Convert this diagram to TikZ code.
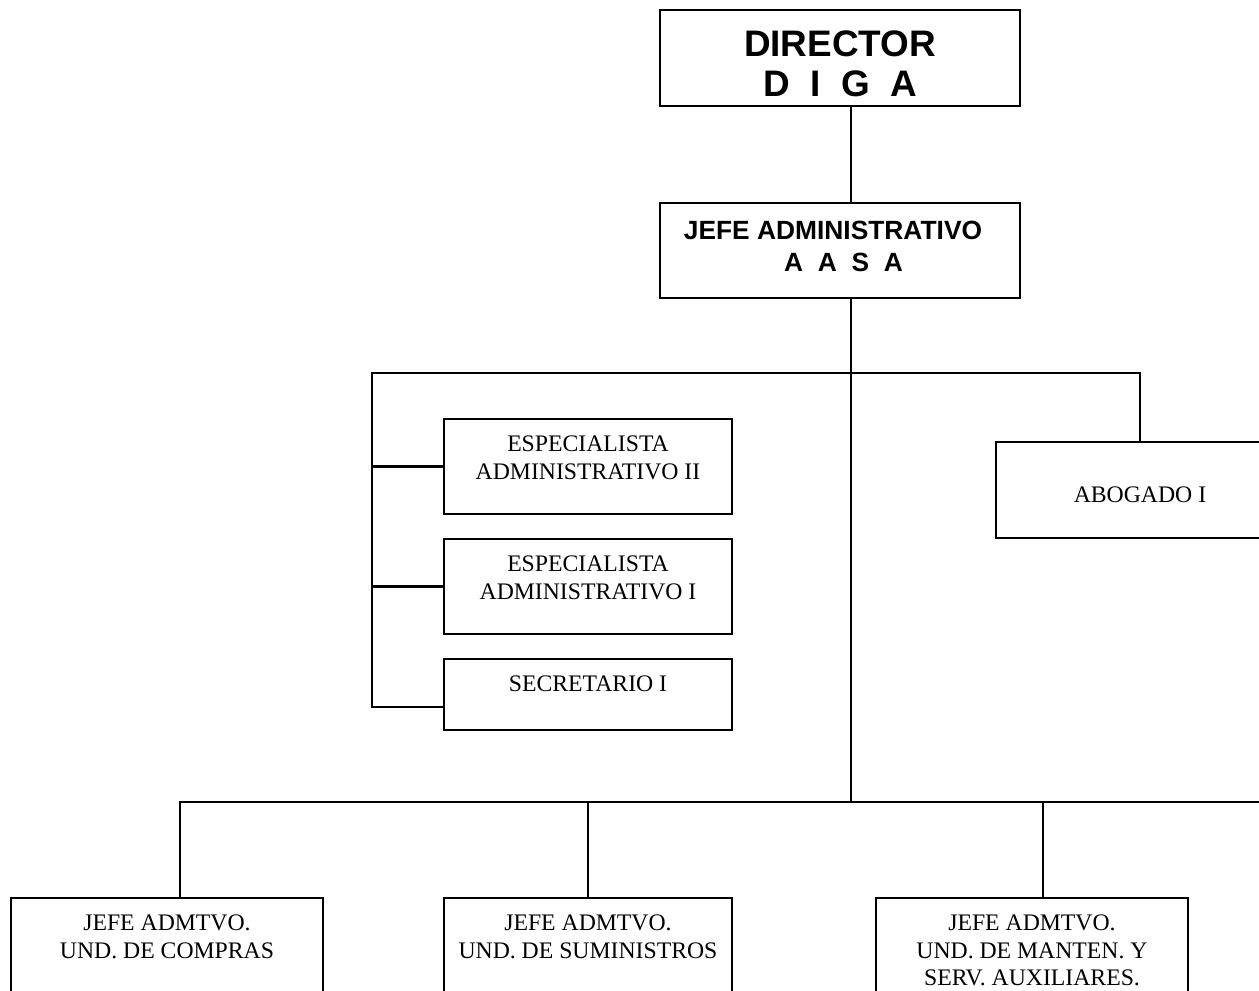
\documentclass[tikz,border=0pt]{standalone}
\usepackage{fontspec}
\setmainfont{Liberation Serif}
\setsansfont{Liberation Sans}
\usepackage{tikz}
\usetikzlibrary{positioning}

\begin{document}
\begin{tikzpicture}[x=0.02cm, y=-0.02cm, line width=1.2pt,
    box/.style={shape=rectangle, draw, minimum width=5.76cm, minimum height=1.9cm, inner sep=0pt},
    lbl/.style={align=center, inner sep=0pt, font=\fontsize{13.5}{15.6}\selectfont},
    head/.style={align=center, inner sep=0pt}]
    \useasboundingbox (0,0) rectangle (1259,991);
    \clip (0,0) rectangle (1259,991);
    % Boxes and texts:
    \node[box, minimum width=7.2cm, minimum height=1.92cm](dir) at (840,58){};
    \node[head, below=12pt of dir.north, font=\sffamily\bfseries\fontsize{21}{22.7}\selectfont](dirT){DIRECTOR\\D~~I~~G~~A};
    \node[box, minimum width=7.2cm](jefe) at (840,250.5){};
    \node[head, below=10.5pt of jefe.north, xshift=-4pt, font=\sffamily\bfseries\fontsize{15}{18}\selectfont](jefeT){JEFE ADMINISTRATIVO\\\hspace*{0.8em}A~~A~~S~~A};
    \node[box](esp2) at (588,466.5){};
    \node[lbl, below=9.8pt of esp2.north](esp2T){ESPECIALISTA\\ADMINISTRATIVO II};
    \node[box](esp1) at (588,586.5){};
    \node[lbl, below=9.8pt of esp1.north](esp1T){ESPECIALISTA\\ADMINISTRATIVO I};
    \node[box, minimum height=1.42cm](sec) at (588,694.5){};
    \node[lbl, below=9.8pt of sec.north](secT){SECRETARIO I};
    \node[box, minimum height=1.92cm](abo) at (1140,490){};
    \node[lbl, below=25.5pt of abo.north](aboT){ABOGADO I};
    \node[box, minimum width=6.24cm, minimum height=2.24cm](jA) at (167,954){};
    \node[lbl, below=9.8pt of jA.north](jAT){JEFE ADMTVO.\\UND. DE COMPRAS};
    \node[box, minimum height=2.24cm](jB) at (588,954){};
    \node[lbl, below=9.8pt of jB.north](jBT){JEFE ADMTVO.\\UND. DE SUMINISTROS};
    \node[box, minimum width=6.24cm, minimum height=2.24cm](jC) at (1032,954){};
    \node[lbl, below=9.8pt of jC.north](jCT){JEFE ADMTVO.\\UND. DE MANTEN. Y\\SERV. AUXILIARES.};
    % Wires:
    \coordinate (spine) at (851,373);
    \coordinate (busL) at (372,373);
    \coordinate (busR) at (1140,373);
    \coordinate (secW) at (372,707);
    \coordinate (low) at (851,802);
    \coordinate (lowL) at (180,802);
    \coordinate (lowR) at (1270,802);
    \coordinate (dropC) at (1043,802);
    \draw (dir.south -| spine) -- (jefe.north -| spine);
    \draw (jefe.south -| spine) -- (low);
    \draw (abo.north) -- (busR) -- (busL) -- (secW) -- (secW -| sec.west);
    \draw (busL |- esp2.west) -- (esp2.west);
    \draw (busL |- esp1.west) -- (esp1.west);
    \draw (lowL |- jA.north) -- (lowL) -- (lowR);
    \draw (jB.north |- low) -- (jB.north);
    \draw (dropC) -- (dropC |- jC.north);
\end{tikzpicture}
\end{document}
